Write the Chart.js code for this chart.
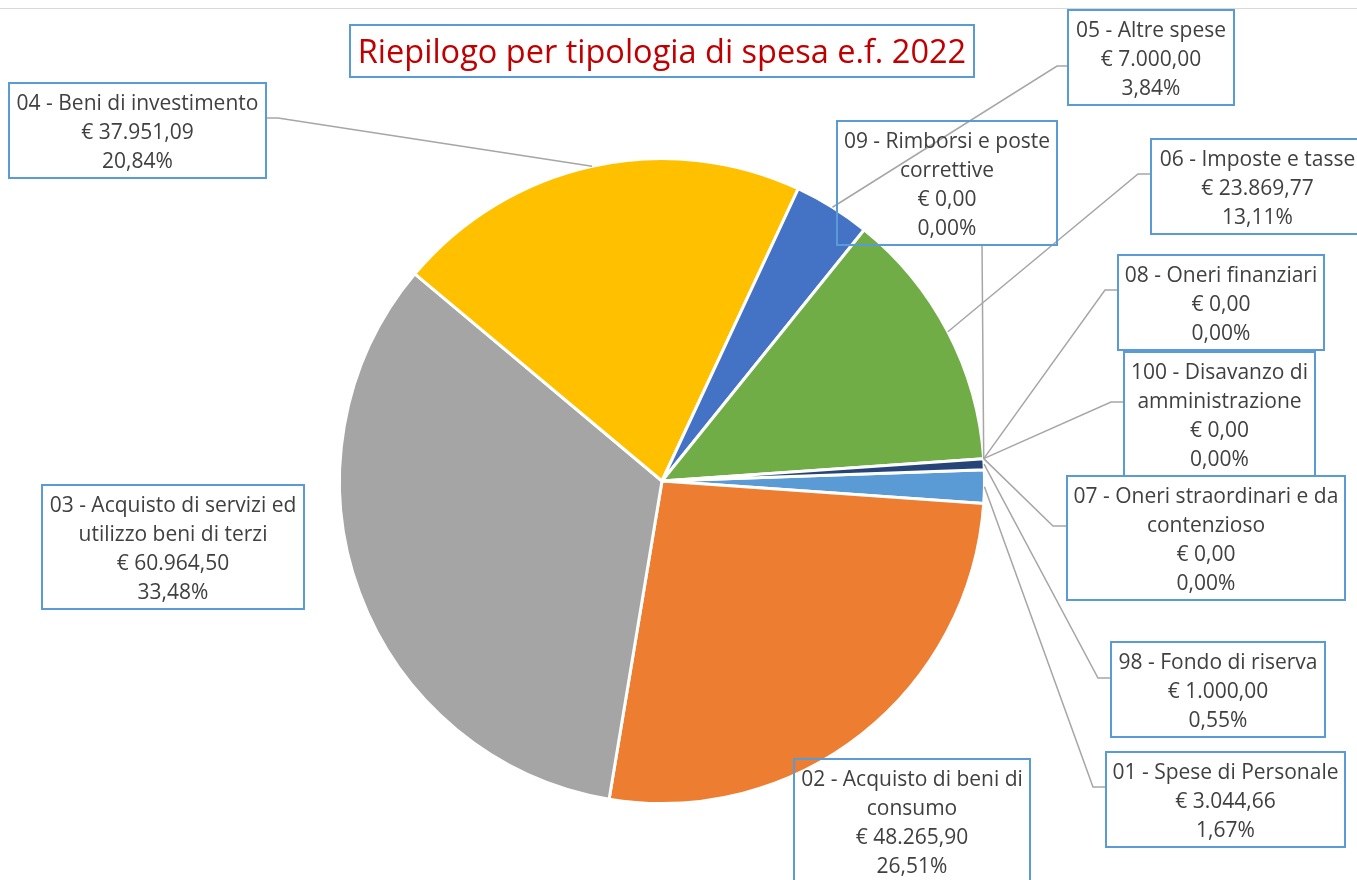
<!DOCTYPE html>
<html lang="it">
<head>
<meta charset="utf-8">
<title>Riepilogo per tipologia di spesa e.f. 2022</title>
<script src="https://cdn.jsdelivr.net/npm/chart.js@4/dist/chart.umd.min.js"></script>
<style>
  html, body { margin: 0; padding: 0; background: #fff; }
  #wrap { position: relative; width: 1357px; height: 880px; overflow: hidden; font-family: "Open Sans", Lato, sans-serif; }
  #topLine { position: absolute; left: 0; top: 8px; width: 1357px; height: 0; border-top: 1px solid #d9d9d9; }
  #chart { position: absolute; left: 0; top: 0; }
  .box {
    position: absolute; box-sizing: border-box;
    border: 2px solid #5b9bd5;
    color: #404040; font-size: 21px; line-height: 29px;
    text-align: center; padding: 4px 0 2px 0;
  }
  #titolo {
    position: absolute; left: 349px; top: 24px; width: 626px; height: 54px; box-sizing: border-box;
    border: 2px solid #5b9bd5; color: #c00000; font-size: 32.5px; line-height: 50px; text-align: center;
  }
</style>
</head>
<body>
<div id="wrap">
  <div id="topLine"></div>
  <canvas id="chart" width="1357" height="880"></canvas>
  <div id="titolo">Riepilogo per tipologia di spesa e.f. 2022</div>
</div>
<script>
// voci di spesa in ordine orario a partire da 01
const categorie = [
  '01 - Spese di Personale',
  '02 - Acquisto di beni di consumo',
  '03 - Acquisto di servizi ed utilizzo beni di terzi',
  '04 - Beni di investimento',
  '05 - Altre spese',
  '06 - Imposte e tasse',
  '09 - Rimborsi e poste correttive',
  '08 - Oneri finanziari',
  '100 - Disavanzo di amministrazione',
  '07 - Oneri straordinari e da contenzioso',
  '98 - Fondo di riserva',
];
const importi = [3044.66, 48265.90, 60964.50, 37951.09, 7000.00, 23869.77, 0, 0, 0, 0, 1000.00];
const colori = ['#5b9bd5', '#ed7d31', '#a5a5a5', '#ffc000', '#4472c4', '#70ad47', '#255e91', '#9e480e', '#636363', '#997300', '#264478'];

// posizione delle etichette (box) e punti di attacco delle linee guida
const etichette = [
  { x: 1105, y: 751, w: 241, line: [[1105, 787], [1093, 787]] },
  { x: 793, y: 758, w: 238, line: null },
  { x: 41, y: 484, w: 264, line: null },
  { x: 8, y: 82, w: 259, line: [[267, 118], [278, 118]] },
  { x: 1067, y: 9, w: 168, line: [[1067, 66], [1057, 66]] },
  { x: 1150, y: 138, w: 215, line: [[1150, 174], [1138, 174]] },
  { x: 836, y: 120, w: 222, line: [[982, 244]] },
  { x: 1117, y: 254, w: 208, line: [[1117, 290], [1105, 290]] },
  { x: 1123, y: 351, w: 193, line: [[1123, 402], [1111, 402]] },
  { x: 1066, y: 475, w: 280, line: [[1066, 526], [1053, 526]] },
  { x: 1110, y: 641, w: 216, line: [[1110, 678], [1098, 678]] },
];

function formatEuro(v) {
  const [intPart, dec] = v.toFixed(2).split('.');
  return '€ ' + intPart.replace(/\B(?=(\d{3})+(?!\d))/g, '.') + ',' + dec;
}

function formatPerc(v, tot) {
  return (tot > 0 ? (v / tot) * 100 : 0).toFixed(2).replace('.', ',') + '%';
}

const totale = importi.reduce((s, v) => s + v, 0);
const wrap = document.getElementById('wrap');

categorie.forEach((nome, i) => {
  const pos = etichette[i];
  const box = document.createElement('div');
  box.className = 'box';
  box.style.left = pos.x + 'px';
  box.style.top = pos.y + 'px';
  box.style.width = pos.w + 'px';
  [nome, formatEuro(importi[i]), formatPerc(importi[i], totale)].forEach((t) => {
    const riga = document.createElement('div');
    riga.textContent = t;
    box.appendChild(riga);
  });
  wrap.appendChild(box);
});

// linee guida dalle etichette al bordo della fetta
const leaderLines = {
  id: 'leaderLines',
  afterDatasetsDraw(chart) {
    const ctx = chart.ctx;
    const arcs = chart.getDatasetMeta(0).data;
    ctx.save();
    ctx.strokeStyle = '#a6a6a6';
    ctx.lineWidth = 1.5;
    arcs.forEach((arc, i) => {
      const pos = etichette[i];
      if (!pos.line) return;
      const { x, y, startAngle, endAngle, outerRadius } = arc.getProps(['x', 'y', 'startAngle', 'endAngle', 'outerRadius'], true);
      const mid = (startAngle + endAngle) / 2;
      ctx.beginPath();
      ctx.moveTo(pos.line[0][0], pos.line[0][1]);
      for (let k = 1; k < pos.line.length; k++) ctx.lineTo(pos.line[k][0], pos.line[k][1]);
      ctx.lineTo(x + Math.cos(mid) * outerRadius, y + Math.sin(mid) * outerRadius);
      ctx.stroke();
    });
    ctx.restore();
  },
};

new Chart(document.getElementById('chart').getContext('2d'), {
  type: 'pie',
  data: {
    labels: categorie,
    datasets: [{
      data: importi,
      backgroundColor: colori,
      borderColor: '#ffffff',
      borderWidth: 3,
    }],
  },
  options: {
    responsive: false,
    animation: false,
    rotation: 88,
    layout: { padding: { top: 157, bottom: 75, left: 0, right: 33 } },
    plugins: { legend: { display: false }, tooltip: { enabled: false } },
    events: [],
  },
  plugins: [leaderLines],
});
</script>
</body>
</html>
